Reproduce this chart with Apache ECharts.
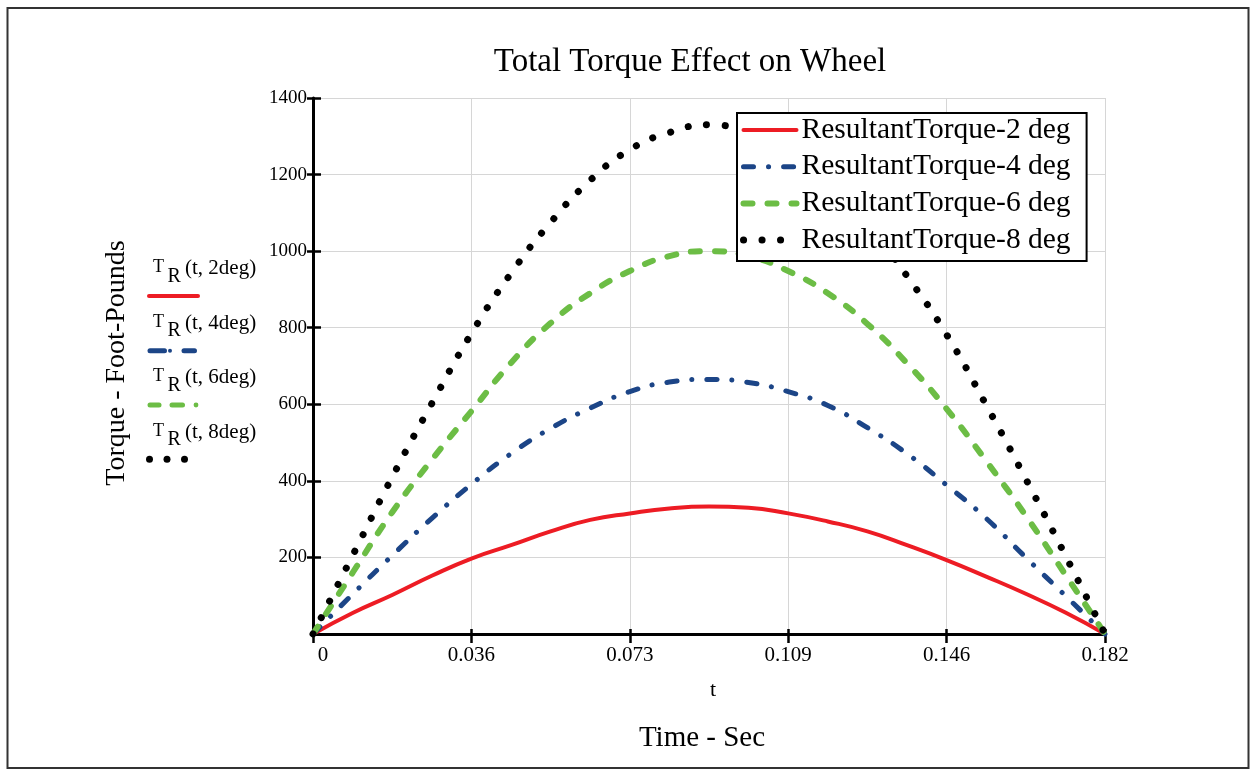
<!DOCTYPE html>
<html>
<head>
<meta charset="utf-8">
<title>Total Torque Effect on Wheel</title>
<script src="https://cdn.jsdelivr.net/npm/echarts@6/dist/echarts.min.js"></script>
<style>
  html, body { margin: 0; padding: 0; background: #ffffff; }
  #chart { width: 1256px; height: 774px; }
</style>
</head>
<body>
<div id="chart"></div>
<script>
// Time samples (seconds)
const timeSec = [0, 0.0091, 0.0182, 0.0273, 0.0364, 0.0455, 0.0546, 0.0637, 0.0728, 0.0819,
                 0.091, 0.1001, 0.1092, 0.1183, 0.1274, 0.1365, 0.1456, 0.1547, 0.1638, 0.1729, 0.182];

// Resultant torque (foot-pounds) for each steering angle
const torque2deg = [0, 55, 102, 152, 197, 232, 268, 298, 315, 328, 333, 330, 315, 294, 268, 232, 193, 150, 105, 56, 0];
const torque4deg = [0, 104, 205, 302, 391, 471, 537, 590, 633, 658, 665, 657, 633, 597, 539, 471, 389, 302, 200, 100, 0];
const torque6deg = [0, 160, 318, 455, 582, 708, 812, 890, 948, 987, 1000, 987, 948, 890, 810, 707, 588, 452, 309, 155, 0];
const torque8deg = [0, 205, 410, 602, 785, 942, 1075, 1185, 1265, 1310, 1330, 1310, 1265, 1180, 1072, 935, 782, 598, 405, 205, 0];

const seriesNames = ['ResultantTorque-2 deg', 'ResultantTorque-4 deg', 'ResultantTorque-6 deg', 'ResultantTorque-8 deg'];
const traceArgs = ['(t, 2deg)', '(t, 4deg)', '(t, 6deg)', '(t, 8deg)'];

// Axis ticks
const xStep = 0.0364;
const xMax = 0.182;
const xTickLabels = ['0', '0.036', '0.073', '0.109', '0.146', '0.182'];
const yStep = 200;
const yMax = 1400;
const yTickLabels = ['0', '200', '400', '600', '800', '1000', '1200', '1400'];

const serif = '"Liberation Serif", "DejaVu Serif", "Times New Roman", serif';
const colors = ['#ed1c24', '#1c4587', '#6cbd45', '#000000'];

const chart = echarts.init(document.getElementById('chart'), null, { renderer: 'canvas' });

function pairs(values) {
  return timeSec.map((t, i) => [t, values[i]]);
}

const lineStyles = [
  { color: colors[0], width: 4, type: 'solid', cap: 'round', join: 'round' },
  { color: colors[1], width: 5, type: [10, 15, 0.1, 15], cap: 'round', join: 'round' },
  { color: colors[2], width: 6, type: [9, 15], cap: 'round', join: 'round' },
  { color: colors[3], width: 7, type: [0.1, 18.4], cap: 'round', join: 'round' }
];

const seriesData = [torque2deg, torque4deg, torque6deg, torque8deg];

const series = seriesData.map((vals, k) => ({
  name: seriesNames[k],
  type: 'line',
  xAxisIndex: 0,
  yAxisIndex: 0,
  data: pairs(vals),
  symbol: 'none',
  showSymbol: false,
  smooth: true,
  clip: false,
  color: colors[k],
  lineStyle: lineStyles[k],
  emphasis: { disabled: true },
  z: 3 + k
}));

// Trace labels on the left: T with subscript R, argument list, and a line sample
const traceGraphics = [];
const rowY = [267.5, 322, 376.5, 431];
rowY.forEach((y, k) => {
  traceGraphics.push({
    type: 'text', x: 153, y: y,
    style: { text: 'T', font: '18px ' + serif, fill: '#000', align: 'left', verticalAlign: 'middle' }
  });
  traceGraphics.push({
    type: 'text', x: 167.5, y: y + 9,
    style: { text: 'R', font: '20px ' + serif, fill: '#000', align: 'left', verticalAlign: 'middle' }
  });
  traceGraphics.push({
    type: 'text', x: 185, y: y + 1,
    style: { text: traceArgs[k], font: '21px ' + serif, fill: '#000', align: 'left', verticalAlign: 'middle' }
  });
});

function seg(x1, x2, y, color, w) {
  return { type: 'line', shape: { x1: x1, y1: y, x2: x2, y2: y },
           style: { stroke: color, lineWidth: w, lineCap: 'round' } };
}
function dot(cx, cy, r, color) {
  return { type: 'circle', shape: { cx: cx, cy: cy, r: r }, style: { fill: color } };
}
// red solid
traceGraphics.push(seg(149, 198, 296, colors[0], 4));
// blue dash-dot
traceGraphics.push(seg(150, 164.5, 350.7, colors[1], 5));
traceGraphics.push(dot(170, 350.7, 2, colors[1]));
traceGraphics.push(seg(184, 194.5, 350.7, colors[1], 5));
// green dashes
traceGraphics.push(seg(150, 159, 405, colors[2], 5));
traceGraphics.push(seg(172, 182.5, 405, colors[2], 5));
traceGraphics.push(dot(196, 405, 2.4, colors[2]));
// black dots
traceGraphics.push(dot(149.5, 459.3, 3.5, colors[3]));
traceGraphics.push(dot(167, 459.3, 3.5, colors[3]));
traceGraphics.push(dot(184.5, 459.3, 3.5, colors[3]));

const option = {
  animation: false,
  backgroundColor: '#ffffff',
  grid: { left: 313, right: 151, top: 98, bottom: 140, containLabel: false },
  xAxis: [
    {
      type: 'value', min: 0, max: xMax, interval: xStep, position: 'bottom',
      axisLine: { show: true, onZero: false, lineStyle: { color: '#000', width: 3 } },
      axisTick: { show: true, inside: false, length: 9, lineStyle: { color: '#000', width: 2.5 } },
      axisLabel: {
        margin: 11, color: '#000', fontFamily: serif, fontSize: 21,
        formatter: function (v) {
          const i = Math.round(v / xStep);
          return i === 0 ? '{first|' + xTickLabels[0] + '}' : xTickLabels[i];
        },
        rich: { first: { fontFamily: serif, fontSize: 21, color: '#000', padding: [0, 0, 0, 20] } }
      },
      splitLine: { show: true, lineStyle: { color: '#d6d6d6', width: 1 } }
    },
    {
      type: 'value', min: 0, max: xMax, interval: xStep, position: 'bottom',
      axisLine: { show: false, onZero: false },
      axisTick: { show: true, inside: true, length: 5, lineStyle: { color: '#000', width: 2.5 } },
      axisLabel: { show: false },
      splitLine: { show: false }
    }
  ],
  yAxis: [
    {
      type: 'value', min: 0, max: yMax, interval: yStep, position: 'left',
      axisLine: { show: true, onZero: false, lineStyle: { color: '#000', width: 3 } },
      axisTick: { show: true, inside: false, length: 6, lineStyle: { color: '#000', width: 2.5 } },
      axisLabel: {
        margin: 6, color: '#000', fontFamily: serif, fontSize: 19, showMinLabel: false,
        formatter: function (v) { return yTickLabels[Math.round(v / yStep)]; }
      },
      splitLine: { show: true, lineStyle: { color: '#d6d6d6', width: 1 } }
    },
    {
      type: 'value', min: 0, max: yMax, interval: yStep, position: 'left',
      axisLine: { show: false, onZero: false },
      axisTick: { show: true, inside: true, length: 8, lineStyle: { color: '#000', width: 2.5 } },
      axisLabel: { show: false },
      splitLine: { show: false }
    }
  ],
  legend: {
    orient: 'vertical', left: 737, top: 113,
    padding: [0, 16, 4, 3], itemGap: 2.7, itemWidth: 53, itemHeight: 14,
    backgroundColor: '#ffffff', borderColor: '#000', borderWidth: 2, borderRadius: 0,
    textStyle: { fontFamily: serif, fontSize: 29.5, color: '#000', lineHeight: 34 },
    lineStyle: { width: 'inherit' },
    itemStyle: { opacity: 0, borderWidth: 0 },
    selectedMode: false,
    data: seriesNames,
    z: 20
  },
  series: series,
  graphic: [
    {
      type: 'rect', z: 0,
      shape: { x: 7.5, y: 8, width: 1241, height: 760 },
      style: { fill: 'none', stroke: '#333', lineWidth: 2 }
    },
    {
      type: 'text', x: 690, y: 62,
      style: { text: 'Total Torque Effect on Wheel', font: '33px ' + serif, fill: '#000', align: 'center', verticalAlign: 'middle' }
    },
    {
      type: 'text', x: 117, y: 363, rotation: Math.PI / 2,
      style: { text: 'Torque - Foot-Pounds', font: '28px ' + serif, fill: '#000', align: 'center', verticalAlign: 'middle' }
    },
    {
      type: 'text', x: 713, y: 690,
      style: { text: 't', font: '22px ' + serif, fill: '#000', align: 'center', verticalAlign: 'middle' }
    },
    {
      type: 'text', x: 702, y: 738,
      style: { text: 'Time - Sec', font: '29px ' + serif, fill: '#000', align: 'center', verticalAlign: 'middle' }
    }
  ].concat(traceGraphics)
};

chart.setOption(option);
</script>
</body>
</html>
